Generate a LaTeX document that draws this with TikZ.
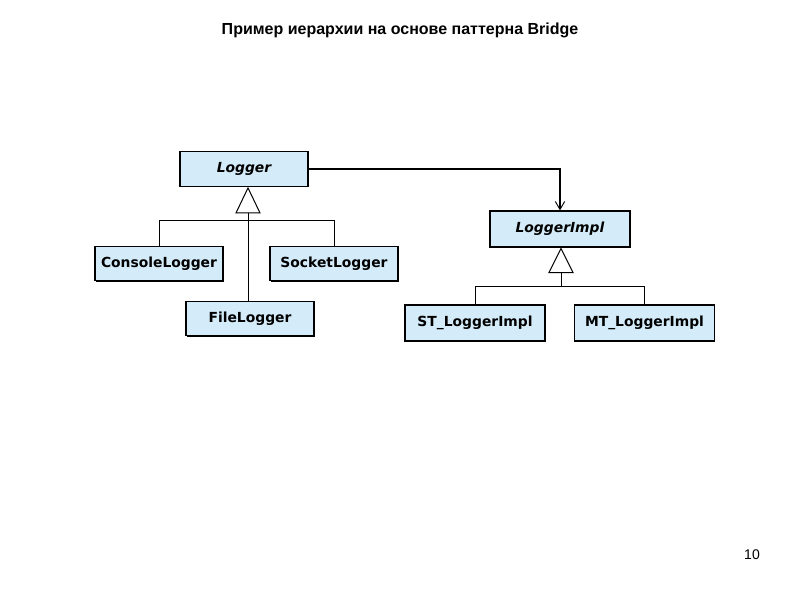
\documentclass[tikz,border=0pt]{standalone}
\usepackage{fontspec}
\setmainfont{Liberation Sans}
\newfontfamily\umlfont{DejaVu Sans}
\usetikzlibrary{arrows,arrows.meta,calc,positioning,shadows}
\definecolor{classfill}{RGB}{212,236,249}
\tikzset{
cls/.style={draw,fill=classfill,line width=0.9pt,minimum width=96pt,minimum height=26pt,inner sep=0pt,
  font=\umlfont\bfseries\fontsize{10.4}{12}\selectfont,
  general shadow={fill=black,shadow xshift=0.6pt,shadow yshift=-0.6pt}},
abstr/.style={cls,font=\umlfont\bfseries\itshape\fontsize{10.4}{12}\selectfont},
impl/.style={minimum width=105pt,minimum height=27pt},
gen/.style={draw,fill=white,line width=0.75pt},
link/.style={line width=0.75pt},
arc/.style={-{Straight Barb[length=6pt,width=7pt,line width=0.7pt]},line width=1.1pt}
}

\begin{document}
\begin{tikzpicture}[x=0.75pt,y=-0.75pt]
\useasboundingbox (0,0) rectangle (800,600);

\node[font=\bfseries\fontsize{12}{14}\selectfont] (title) at (400,30) {Пример иерархии на основе паттерна Bridge};

%abstraction hierarchy
\node[abstr] (logger) at (244,169) {Logger};
\node[cls] (console) at (159,263.5) {ConsoleLogger};
\node[cls] (socket) at (334,263.5) {SocketLogger};
\node[cls] (file) at (250,318.5) {FileLogger};

%implementation hierarchy
\node[abstr,impl] (impl) at (560,229) {LoggerImpl};
\node[cls,impl] (st) at (475,323) {ST\_LoggerImpl};
\node[cls,impl] (mt) at (644.5,323) {MT\_LoggerImpl};

%generalisation triangles
\coordinate (g1) at ($(logger.south)+(4,1)$);
\coordinate (g1b) at ($(g1)+(0,25)$);
\draw[gen] (g1) -- ++(-12,25) -- ++(24,0) -- cycle;
\coordinate (g2) at ($(impl.south)+(1,1)$);
\coordinate (g2b) at ($(g2)+(0,24)$);
\draw[gen] (g2) -- ++(-12,24) -- ++(24,0) -- cycle;

%subclass links
\draw[link] (console.north) |- ($(g1b)+(0,8)$) -| (socket.north);
\draw[link] (g1b) -- (g1b |- file.north);
\draw[link] (g2b) -- ++(0,14);
\draw[link] (st.north) |- ($(g2b)+(0,14)$) -| (mt.north);

%bridge association
\draw[arc] (logger.east) -| (impl.north);

\node[font=\fontsize{10.5}{12}\selectfont] (page) at (752,555) {10};

\end{tikzpicture}
\end{document}
